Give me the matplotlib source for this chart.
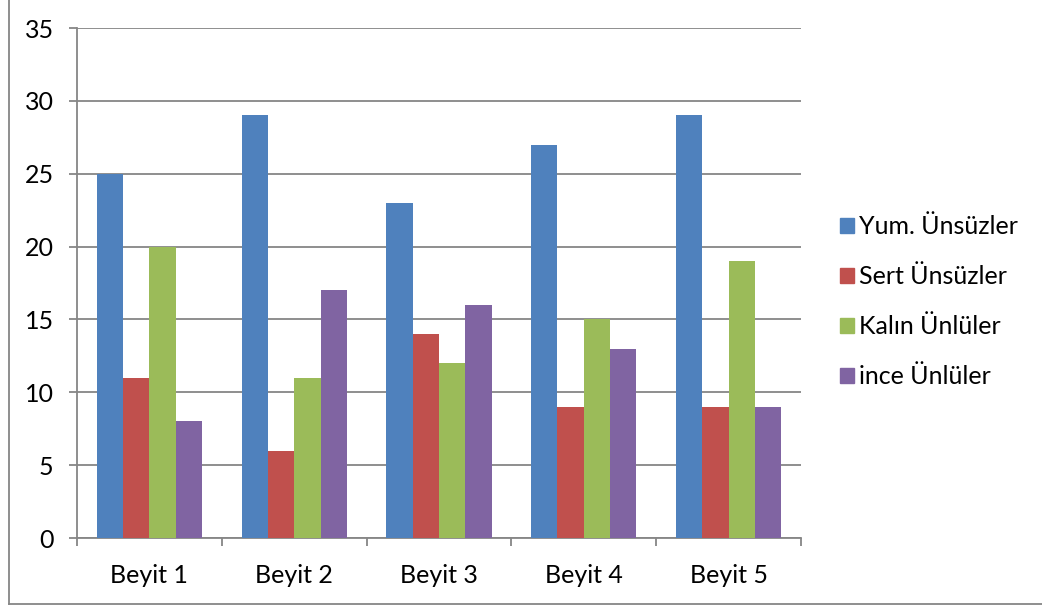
import matplotlib
matplotlib.use("Agg")
import matplotlib.pyplot as plt
import numpy as np
from matplotlib.patches import Rectangle
from matplotlib.lines import Line2D

categories = ["Beyit 1", "Beyit 2", "Beyit 3", "Beyit 4", "Beyit 5"]
series_names = ["Yum. Ünsüzler", "Sert Ünsüzler", "Kalın Ünlüler", "ince Ünlüler"]
yum = [25, 29, 23, 27, 29]
sert = [11, 6, 14, 9, 9]
kalin = [20, 11, 12, 15, 19]
ince = [8, 17, 16, 13, 9]
series = [yum, sert, kalin, ince]
colors = ["#4F81BD", "#C0504D", "#9BBB59", "#8064A2"]
yticks = [0, 5, 10, 15, 20, 25, 30, 35]

plt.rcParams['font.family'] = ['Lato', 'DejaVu Sans']
W, H = 1042, 608
fig = plt.figure(figsize=(W/100, H/100), dpi=100)
ax = fig.add_axes([77/W, (H-538)/H, 724/W, 510/H])

n = len(categories)
bw = 1/5.5
x = np.arange(n)
for i, (vals, c, name) in enumerate(zip(series, colors, series_names)):
    ax.bar(x - 2*bw + (i+0.5)*bw, vals, width=bw, color=c, label=name, zorder=3)

FS = 18
ax.set_xlim(-0.5, n-0.5)
ax.set_ylim(0, 35)
ax.set_yticks(yticks)
ax.yaxis.grid(True, color="#868686", linewidth=1.3, zorder=0)
ax.set_axisbelow(True)
for s in ["top", "right"]:
    ax.spines[s].set_visible(False)
for s in ["left", "bottom"]:
    ax.spines[s].set_color("#868686")
    ax.spines[s].set_linewidth(1.3)
ax.set_xticks(x)
ax.set_xticklabels(categories, fontsize=FS)
ax.tick_params(axis='x', length=0, pad=19)
ax.set_xticks(np.arange(n+1)-0.5, minor=True)
ax.tick_params(axis='x', which='minor', length=5.8, color="#868686", width=1.3, direction='out')
ax.tick_params(axis='y', length=5.8, color="#868686", width=1.3, direction='out', labelsize=FS, pad=11)

handles = [Rectangle((0, 0), 1, 1, color=c) for c in colors]
fig.legend(handles, series_names, loc='center left', bbox_to_anchor=(840/W, 1-(302/H)),
           frameon=False, fontsize=FS, handlelength=0.55, handleheight=0.55,
           handletextpad=0.2, labelspacing=1.08, borderaxespad=0, borderpad=0)

# outer chart border
fig.add_artist(Line2D([8.5/W, 8.5/W], [1.0, (H-604)/H], transform=fig.transFigure, color="#868686", linewidth=1.3))
fig.add_artist(Line2D([8.5/W, 1.0], [(H-604)/H, (H-604)/H], transform=fig.transFigure, color="#868686", linewidth=1.3))

fig.savefig("out.png", dpi=100)
